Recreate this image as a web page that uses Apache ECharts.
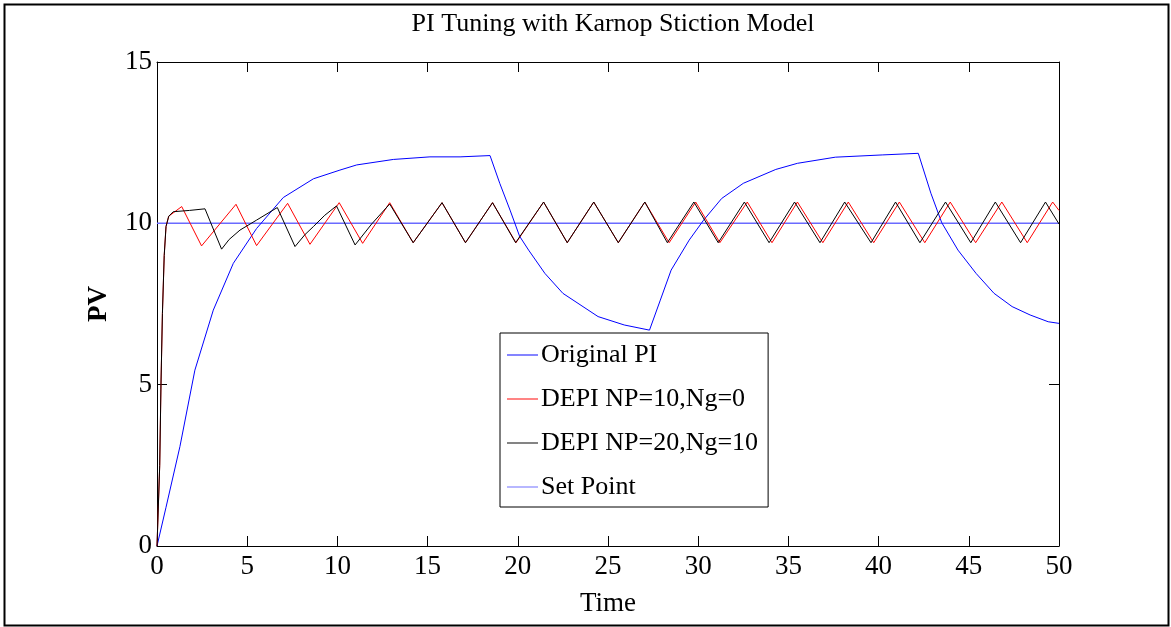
<!DOCTYPE html>
<html>
<head>
<meta charset="utf-8">
<script src="https://cdn.jsdelivr.net/npm/echarts@6/dist/echarts.min.js"></script>
<style>
html,body{margin:0;padding:0;background:#fff;}
#c{width:1171px;height:627px;}
</style>
</head>
<body>
<div id="c"></div>
<script>
var titleText = 'PI Tuning with Karnop Stiction Model';
var xTicks = [0, 5, 10, 15, 20, 25, 30, 35, 40, 45, 50];
var yTicks = [0, 5, 10, 15];
var seriesNames = ['Original PI', 'DEPI NP=10,Ng=0', 'DEPI NP=20,Ng=10', 'Set Point'];

var piT = [0, 0.5, 1.27, 2.1, 3.12, 4.23, 5.52, 7.0, 8.67, 10.14, 11.07, 13.1, 15.13, 16.8, 18.46, 19.0, 19.57, 20.1, 20.6, 21.5, 22.5, 24.45, 25.9, 27.3, 27.9, 28.5, 29.5, 30.3, 31.3, 32.5, 34.3, 35.5, 37.6, 40.2, 42.2, 42.9, 43.5, 44.4, 45.4, 46.4, 47.4, 48.4, 49.4, 50];
var piY = [0, 1.2, 3.08, 5.45, 7.31, 8.76, 9.84, 10.8, 11.38, 11.65, 11.81, 11.98, 12.06, 12.06, 12.1, 11.24, 10.41, 9.6, 9.17, 8.45, 7.83, 7.11, 6.85, 6.69, 7.62, 8.55, 9.48, 10.1, 10.77, 11.24, 11.67, 11.86, 12.05, 12.12, 12.17, 10.93, 10.02, 9.17, 8.45, 7.83, 7.42, 7.16, 6.95, 6.9];

var np10T = [0, 0.07, 0.15, 0.22, 0.3, 0.4, 0.5, 0.65, 0.72, 1.37, 2.47, 4.38, 5.52, 7.24, 8.48, 10.1, 11.4, 12.9, 14.2, 15.8, 17.1, 18.6, 19.9, 21.43, 22.74, 24.21, 25.57, 27.04, 28.39, 29.86, 31.2, 32.72, 34.09, 35.5, 36.91, 38.32, 39.73, 41.15, 42.56, 43.97, 45.38, 46.83, 48.24, 49.65, 50];
var np10Y = [0, 0, 2.5, 5.0, 7.2, 9.0, 9.9, 10.22, 10.26, 10.52, 9.30, 10.59, 9.31, 10.62, 9.35, 10.64, 9.38, 10.64, 9.40, 10.64, 9.40, 10.64, 9.40, 10.66, 9.40, 10.66, 9.40, 10.66, 9.40, 10.66, 9.40, 10.66, 9.40, 10.66, 9.40, 10.66, 9.40, 10.66, 9.40, 10.66, 9.40, 10.66, 9.40, 10.66, 10.4];

var np20T = [0, 0.07, 0.15, 0.22, 0.3, 0.4, 0.5, 0.65, 0.9, 1.8, 2.66, 3.58, 4.0, 4.6, 5.52, 6.67, 7.65, 8.2, 8.67, 9.3, 9.95, 10.98, 11.9, 12.9, 14.2, 15.8, 17.1, 18.6, 19.88, 21.43, 22.74, 24.21, 25.57, 27.04, 28.29, 29.76, 31.11, 32.56, 33.93, 35.34, 36.75, 38.12, 39.58, 40.94, 42.29, 43.71, 45.11, 46.47, 47.87, 49.25, 50];
var np20Y = [0, 0, 2.5, 5.0, 7.2, 9.0, 9.9, 10.22, 10.36, 10.40, 10.45, 9.2, 9.5, 9.79, 10.1, 10.49, 9.28, 9.65, 9.9, 10.25, 10.54, 9.33, 9.98, 10.6, 9.40, 10.64, 9.40, 10.64, 9.40, 10.66, 9.40, 10.66, 9.40, 10.66, 9.40, 10.66, 9.40, 10.66, 9.40, 10.66, 9.40, 10.66, 9.40, 10.66, 9.40, 10.66, 9.40, 10.66, 9.40, 10.66, 9.98];

var spT = [0, 50];
var spY = [10, 10];

function pairs(t, y) { return t.map(function (v, i) { return [v, y[i]]; }); }

var FONT = '"Liberation Serif", "Times New Roman", serif';
var chart = echarts.init(document.getElementById('c'), null, {renderer: 'canvas'});

var axisBase = {
  type: 'value', min: 0, interval: 5,
  axisLine: {show: true, onZero: false, lineStyle: {color: '#000', width: 1}},
  axisTick: {show: true, inside: true, length: 10, lineStyle: {color: '#000'}},
  splitLine: {show: false}
};

chart.setOption({
  animation: false,
  backgroundColor: '#fff',
  title: {
    text: titleText, left: 608, top: 6, textAlign: 'center',
    textStyle: {fontFamily: FONT, fontSize: 26, fontWeight: 'normal', color: '#000'}
  },
  grid: {left: 157, right: 112, top: 62, bottom: 81, show: false},
  legend: {
    orient: 'vertical', left: 500, top: 333,
    data: seriesNames,
    icon: 'path://M0,0 H32 V1 H0 Z',
    backgroundColor: '#fff', borderColor: '#000', borderWidth: 1,
    padding: [7, 10, 5, 7], itemGap: 14, itemWidth: 31, itemHeight: 1,
    textStyle: {fontFamily: FONT, fontSize: 26, color: '#000', lineHeight: 30, padding: [0, 0, 0, -2]}
  },
  xAxis: [
    Object.assign({}, axisBase, {
      max: 50, position: 'bottom',
      name: 'Time', nameLocation: 'middle', nameGap: 44,
      nameTextStyle: {fontFamily: FONT, fontSize: 27, color: '#000'},
      axisLabel: {fontFamily: FONT, fontSize: 27, color: '#000', margin: 7,
        formatter: function (v) { return xTicks.indexOf(v) >= 0 ? String(v) : ''; }}
    }),
    Object.assign({}, axisBase, {max: 50, position: 'top', axisLabel: {show: false}})
  ],
  yAxis: [
    Object.assign({}, axisBase, {
      max: 15, position: 'left',
      name: 'PV', nameLocation: 'middle', nameGap: 44, nameRotate: 90,
      nameTextStyle: {fontFamily: FONT, fontSize: 27, fontWeight: 'bold', color: '#000'},
      axisLabel: {fontFamily: FONT, fontSize: 27, color: '#000', margin: 5,
        formatter: function (v) { return yTicks.indexOf(v) >= 0 ? String(v) : ''; }}
    }),
    Object.assign({}, axisBase, {max: 15, position: 'right', axisLabel: {show: false}})
  ],
  series: [
    {name: seriesNames[0], type: 'line', data: pairs(piT, piY), symbol: 'none', smooth: false,
      lineStyle: {color: '#0000ff', width: 1}, itemStyle: {color: '#0000ff'}, z: 3},
    {name: seriesNames[1], type: 'line', data: pairs(np10T, np10Y), symbol: 'none',
      lineStyle: {color: '#ff0000', width: 1}, itemStyle: {color: '#ff0000'}, z: 4},
    {name: seriesNames[2], type: 'line', data: pairs(np20T, np20Y), symbol: 'none',
      lineStyle: {color: '#000000', width: 1}, itemStyle: {color: '#000000'}, z: 5},
    {name: seriesNames[3], type: 'line', data: pairs(spT, spY), symbol: 'none',
      lineStyle: {color: '#6a6aff', width: 1.5}, itemStyle: {color: '#6a6aff'}, z: 2}
  ],
  graphic: [
    {type: 'rect', left: 2, top: 2, shape: {width: 1164, height: 621},
      style: {fill: null, stroke: '#000', lineWidth: 2}, silent: true, z: -1}
  ]
});
</script>
</body>
</html>
